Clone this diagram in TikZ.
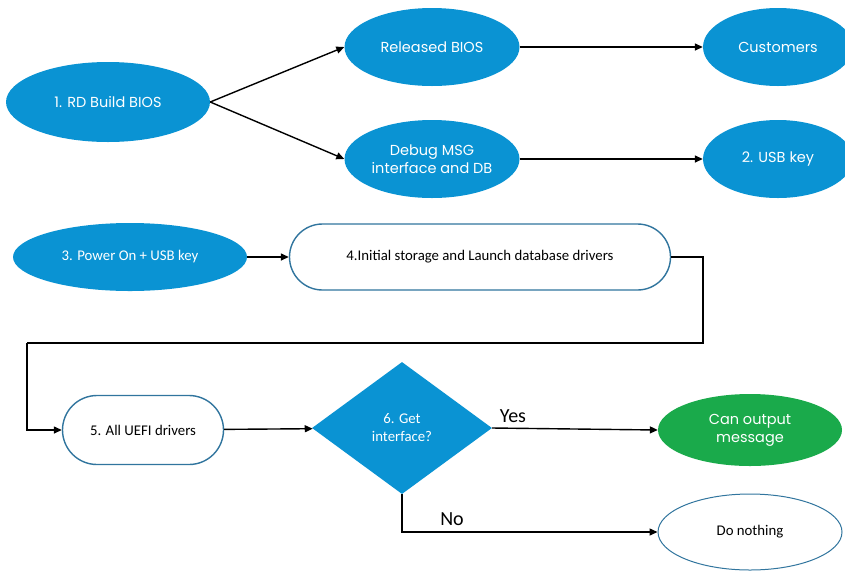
\documentclass[tikz,border=0pt]{standalone}
\usepackage{fontspec}
\setmainfont{Carlito}
\newfontfamily\gothic{Poppins}
\usetikzlibrary{shapes.geometric, shapes.misc, arrows.meta}
\definecolor{bfill}{HTML}{0A93D3}
\definecolor{gfill}{HTML}{1AAA4B}
\definecolor{bline}{HTML}{31759E}

\begin{document}
\begin{tikzpicture}[x=1pt, y=-1pt,
  arr/.style={-{Triangle[length=8pt,width=7pt]}, line width=1.4pt},
  blueell/.style={ellipse, fill=bfill, text=white, inner sep=0pt, align=center},
  gothictext/.style={font=\gothic\fontsize{14.5}{18}\selectfont},
  calibri/.style={font=\fontsize{14.8}{18}\selectfont},
  whitebox/.style={rounded rectangle, draw=bline, line width=1.4pt, fill=white,
    inner sep=0pt, calibri}]
  \useasboundingbox (0,0) rectangle (845,574);

  % 第一行: 生成 BIOS
  \node[blueell, gothictext, minimum width=204pt, minimum height=80pt] (build) at (108,102) {1. RD Build BIOS};
  \node[blueell, gothictext, minimum width=175pt, minimum height=78pt] (rel) at (432,47) {Released BIOS};
  \node[blueell, gothictext, minimum width=175pt, minimum height=78pt] (dbg) at (432,159) {Debug MSG\\interface and DB};
  \node[blueell, gothictext, minimum width=150pt, minimum height=78pt] (cust) at (778,47) {Customers};
  \node[blueell, gothictext, minimum width=150pt, minimum height=78pt] (usb) at (778,159) {2. USB key};

  \draw[arr] (build.east) -- (rel.west);
  \draw[arr] (build.east) -- (dbg.west);
  \draw[arr] (rel) -- (cust);
  \draw[arr] (dbg) -- (usb);

  % 第二行: 上电
  \node[blueell, calibri, minimum width=234pt, minimum height=68pt] (pwr) at (130,257) {3. Power On + USB key};
  \node[whitebox, minimum width=381pt, minimum height=66pt] (init) at (480,257) {4.Initial storage and Launch database drivers};
  \draw[arr] (pwr) -- (init);

  % 折线回到左边
  \coordinate (c1) at (703,343);
  \coordinate (c2) at (27,343);

  % 第三行: 判断
  \node[whitebox, minimum width=161pt, minimum height=69pt] (uefi) at (143,430) {5. All UEFI drivers};
  \node[diamond, fill=bfill, text=white, inner sep=0pt, minimum width=180pt, minimum height=132pt,
    align=center, calibri] (get) at (402,428) {6. Get\\interface?};
  \node[ellipse, fill=gfill, text=white, inner sep=0pt, minimum width=184pt, minimum height=72pt,
    align=center, gothictext] (out) at (750,430) {Can output\\message};
  \node[ellipse, draw=bline, line width=1pt, fill=white, inner sep=0pt, minimum width=184pt,
    minimum height=76pt, calibri] (none) at (750,532) {Do nothing};

  \draw[line width=1.4pt] (init.east) -| (c1) -- (c2);
  \draw[arr] (c2) |- (uefi.west);
  \draw[arr] (uefi) -- (get);
  \draw[arr] (get.east) -- (out.west);
  \draw[arr] (get.south) |- (none.west);

  \node[font=\fontsize{20}{22}\selectfont] (yes) at (513,416) {Yes};
  \node[font=\fontsize{20}{22}\selectfont] (no) at (452,519) {No};
\end{tikzpicture}
\end{document}
